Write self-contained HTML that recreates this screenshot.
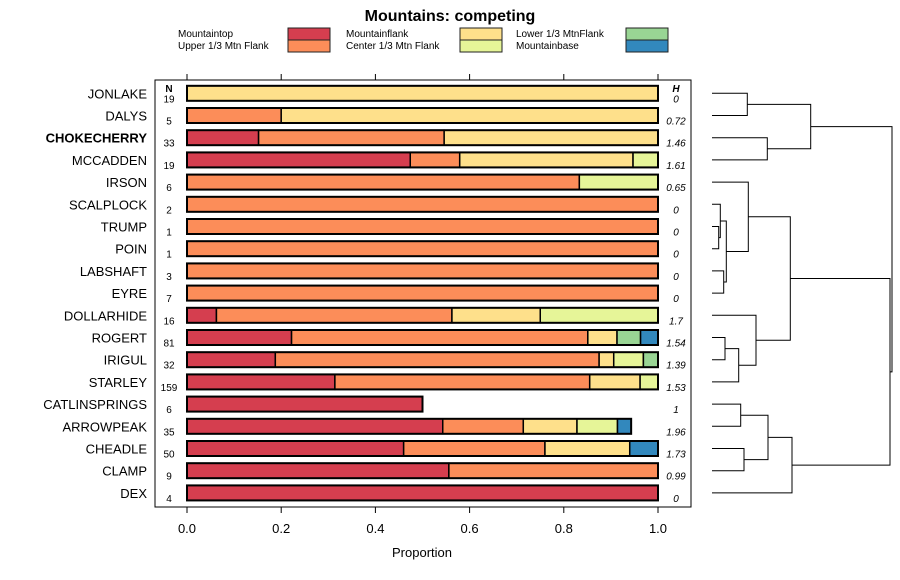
<!DOCTYPE html>
<html><head><meta charset="utf-8"><style>
body{margin:0;background:#fff;}
svg{display:block;font-family:"Liberation Sans",sans-serif;}
</style></head><body>
<svg id="chart" width="900" height="580">
<text x="450" y="21" text-anchor="middle" font-size="16" font-weight="bold">Mountains: competing</text>
<g id="legend"></g>
<rect x="155" y="80" width="536" height="427" fill="none" stroke="#000" stroke-width="1"/>
<g id="axes"></g>
<g id="bars"></g>
<g id="dendro" stroke="#000" fill="none" stroke-width="1"></g>
<text x="422" y="557" text-anchor="middle" font-size="13">Proportion</text>
<text x="169" y="92" text-anchor="middle" font-size="10" font-weight="bold">N</text>
<text x="676" y="92" text-anchor="middle" font-size="10" font-weight="bold" font-style="italic">H</text>
</svg>
<script>
const categories=["JONLAKE","DALYS","CHOKECHERRY","MCCADDEN","IRSON","SCALPLOCK","TRUMP","POIN","LABSHAFT","EYRE","DOLLARHIDE","ROGERT","IRIGUL","STARLEY","CATLINSPRINGS","ARROWPEAK","CHEADLE","CLAMP","DEX"];
const nValues=[19,5,33,19,6,2,1,1,3,7,16,81,32,159,6,35,50,9,4];
const hValues=["0","0.72","1.46","1.61","0.65","0","0","0","0","0","1.7","1.54","1.39","1.53","1","1.96","1.73","0.99","0"];
const seriesNames=["Mountaintop","Upper 1/3 Mtn Flank","Mountainflank","Center 1/3 Mtn Flank","Lower 1/3 MtnFlank","Mountainbase"];
const seriesColors=["#d53e4f","#fc8d59","#fee08b","#e6f598","#99d594","#3288bd"];
const mountaintop=[0,0,0.152,0.474,0,0,0,0,0,0,0.0625,0.222,0.1875,0.314,0.5,0.543,0.46,0.556,1];
const upperFlank=[0,0.2,0.394,0.105,0.833,1,1,1,1,1,0.5,0.629,0.6875,0.541,0,0.171,0.30,0.444,0];
const mountainflank=[1,0.8,0.454,0.368,0,0,0,0,0,0,0.1875,0.062,0.031,0.107,0,0.114,0.18,0,0];
const centerFlank=[0,0,0,0.053,0.167,0,0,0,0,0,0.25,0,0.063,0.038,0,0.086,0,0,0];
const lowerFlank=[0,0,0,0,0,0,0,0,0,0,0,0.05,0.031,0,0,0,0,0,0];
const mountainbase=[0,0,0,0,0,0,0,0,0,0,0,0.037,0,0,0,0.029,0.06,0,0];
const xTicks=[0,0.2,0.4,0.6,0.8,1];
const series=[mountaintop,upperFlank,mountainflank,centerFlank,lowerFlank,mountainbase];
const NS="http://www.w3.org/2000/svg";
const xS=v=>187+v*471;
const yS=i=>93.3+i*22.2;
function mk(tag,attrs,parent,text){const e=document.createElementNS(NS,tag);for(const k in attrs)e.setAttribute(k,attrs[k]);if(text!==undefined)e.textContent=text;parent.appendChild(e);return e;}
const lg=document.getElementById('legend');
const lx=[178,346,516],sx=[288,460,626];
seriesNames.forEach((nm,i)=>{const c=Math.floor(i/2),r=i%2;
const t=mk('text',{x:lx[c],y:37+r*12,'font-size':10},lg,nm);


const s=mk('rect',{x:sx[c],y:28+r*12,width:42,height:12,fill:seriesColors[i],stroke:'#222','stroke-width':1},lg);


});
const ax=document.getElementById('axes');
xTicks.forEach(v=>{
mk('line',{x1:xS(v),x2:xS(v),y1:74,y2:80,stroke:'#000'},ax);
mk('line',{x1:xS(v),x2:xS(v),y1:507,y2:513,stroke:'#000'},ax);
const t=mk('text',{x:xS(v),y:533,'text-anchor':'middle','font-size':13},ax,v.toFixed(1));


});
const bg=document.getElementById('bars');
categories.forEach((c,i)=>{
const y=yS(i);
const lab=mk('text',{x:147,y:y+5,'text-anchor':'end','font-size':13,'font-weight':c==="CHOKECHERRY"?'bold':'normal'},bg,c);


const nt=mk('text',{x:169,y:y+9,'text-anchor':'middle','font-size':10},bg,String(nValues[i]));


const ht=mk('text',{x:676,y:y+9,'text-anchor':'middle','font-size':10,'font-style':'italic'},bg,hValues[i]);


let cum=0;
series.forEach((s,k)=>{const v=s[i];if(v<=0)return;
const r=mk('rect',{x:xS(cum),y:y-7.5,width:xS(cum+v)-xS(cum),height:15,fill:seriesColors[k],stroke:'#000','stroke-width':1.5},bg);


cum+=v;});
mk('rect',{x:xS(0),y:y-7.5,width:xS(cum)-xS(0),height:15,fill:'none',stroke:'#000','stroke-width':2},bg);
});
const dg=document.getElementById('dendro');
const L=712;
function node(x,a,b){return {x:x,a:a,b:b};}
function leaf(i){return {x:L,y:yS(i),leaf:true};}
function draw(n){if(n.leaf)return n.y;const ya=draw(n.a),yb=draw(n.b);
mk('path',{d:`M${n.a.x},${ya}H${n.x}V${yb}H${n.b.x}`},dg);n.y=(ya+yb)/2;return n.y;}
const topGroup=node(810.7,node(747.3,leaf(0),leaf(1)),node(767.3,leaf(2),leaf(3)));
const g2=node(748.3,leaf(4),node(726.3,node(720.3,leaf(5),node(718.7,leaf(6),leaf(7))),node(723.7,leaf(8),leaf(9))));
const g3=node(756,leaf(10),node(738.7,node(725,leaf(11),leaf(12)),leaf(13)));
const midGroup=node(790.3,g2,g3);
const botGroup=node(792,node(768,node(740.7,leaf(14),leaf(15)),node(744,leaf(16),leaf(17))),leaf(18));
draw(node(892,topGroup,node(890,midGroup,botGroup)));
</script>
</body></html>
